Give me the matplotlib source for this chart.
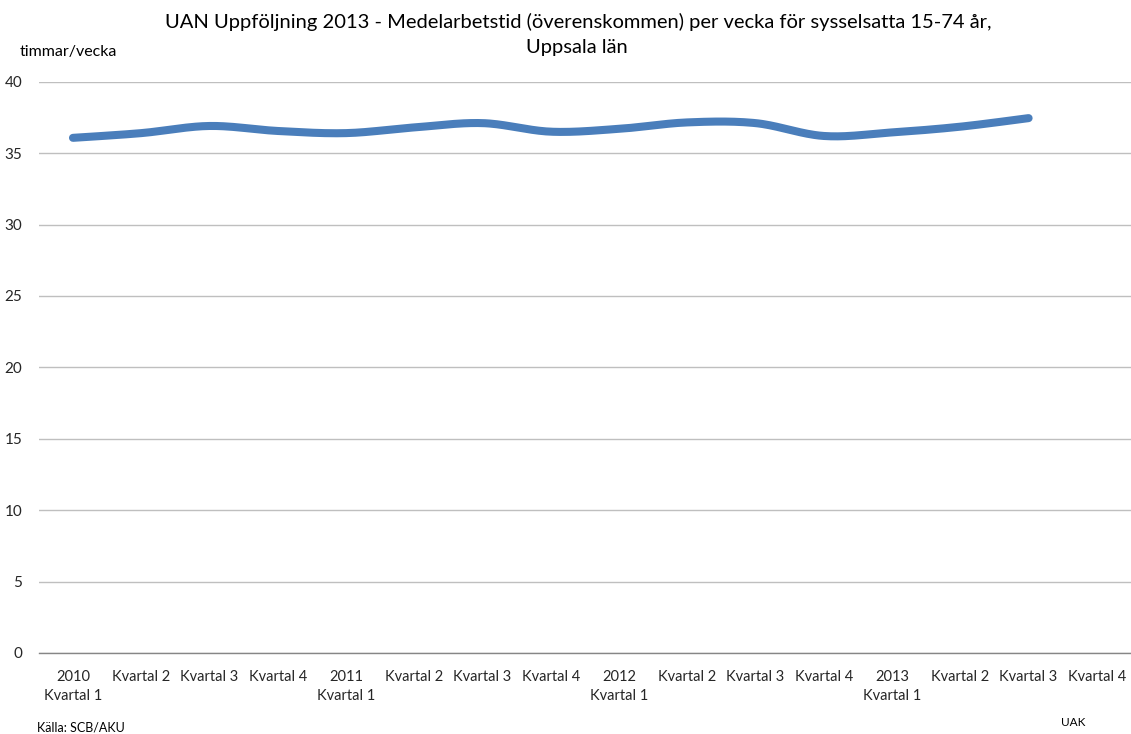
import numpy as np
import matplotlib
matplotlib.use("Agg")
import matplotlib.pyplot as plt

plt.rcParams["font.family"] = ["Lato", "DejaVu Sans"]

# data
quarters = ["2010\nKvartal 1", "Kvartal 2", "Kvartal 3", "Kvartal 4",
            "2011\nKvartal 1", "Kvartal 2", "Kvartal 3", "Kvartal 4",
            "2012\nKvartal 1", "Kvartal 2", "Kvartal 3", "Kvartal 4",
            "2013\nKvartal 1", "Kvartal 2", "Kvartal 3", "Kvartal 4"]
hours = [36.07, 36.4, 36.9, 36.55, 36.4, 36.8, 37.1, 36.5,
         36.7, 37.15, 37.1, 36.2, 36.45, 36.85, 37.45]
yticks = [0, 5, 10, 15, 20, 25, 30, 35, 40]


def smooth(x, y, n=30):
    # catmull-rom through the points, like excel's smoothed line
    x = np.asarray(x, float)
    y = np.asarray(y, float)
    px = np.concatenate([[x[0]], x, [x[-1]]])
    py = np.concatenate([[y[0]], y, [y[-1]]])
    xs, ys = [], []
    t = np.linspace(0, 1, n)
    for i in range(1, len(px) - 2):
        for p, out in ((px, xs), (py, ys)):
            p0, p1, p2, p3 = p[i - 1], p[i], p[i + 1], p[i + 2]
            c1 = p1 + (p2 - p0) / 6
            c2 = p2 - (p3 - p1) / 6
            out.extend((1 - t) ** 3 * p1 + 3 * (1 - t) ** 2 * t * c1
                       + 3 * (1 - t) * t ** 2 * c2 + t ** 3 * p2)
    return xs, ys


fig = plt.figure(figsize=(11.31, 7.34), dpi=100)
ax = fig.add_axes([38.85 / 1131, 1 - 653 / 734, 1 - 38.85 / 1131, (653 - 81.7) / 734])

x = np.arange(len(hours))
sx, sy = smooth(x, hours)
ax.plot(sx, sy, color="#4A7EBB", linewidth=5.8, solid_capstyle="round", zorder=3)

ax.set_xlim(-0.5, len(quarters) - 0.5)
ax.set_ylim(0, 40)
ax.set_yticks(yticks)
ax.set_xticks(np.arange(len(quarters)))
ax.set_xticklabels(quarters, fontsize=10.5, color="#262626", linespacing=1.45)
ax.tick_params(axis="y", labelsize=11, colors="#262626", length=0, pad=12)
ax.tick_params(axis="x", length=0, pad=12)
ax.grid(axis="y", color="#BFBFBF", linewidth=1)
ax.set_axisbelow(True)
for s in ["left", "right", "top"]:
    ax.spines[s].set_visible(False)
ax.spines["bottom"].set_color("#868686")
ax.spines["bottom"].set_linewidth(1)

fig.text(578 / 1131, 1 - 22 / 734,
         "UAN Uppföljning 2013 - Medelarbetstid (överenskommen) per vecka för sysselsatta 15-74 år,",
         ha="center", va="center", fontsize=14.5, color="#000000")
fig.text(577 / 1131, 1 - 48 / 734, "Uppsala län",
         ha="center", va="center", fontsize=14.5, color="#000000")
fig.text(20 / 1131, 1 - 52 / 734, "timmar/vecka", ha="left", va="center",
         fontsize=11.5, color="#000000")
fig.text(37 / 1131, 1 - 727 / 734, "Källa: SCB/AKU", ha="left", va="center",
         fontsize=9, color="#000000")
fig.text(1073 / 1131, 1 - 722 / 734, "UAK", ha="center", va="center",
         fontsize=8.5, color="#000000")

fig.savefig("out.png", dpi=100)
